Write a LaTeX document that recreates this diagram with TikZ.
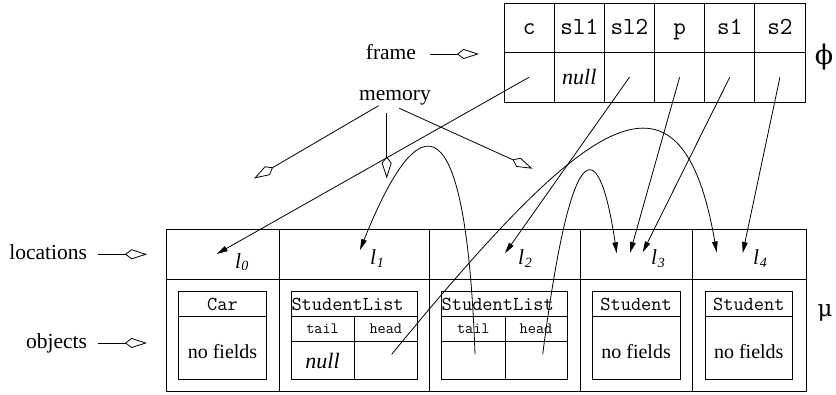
\documentclass[tikz,border=0pt]{standalone}
\usepackage{fontspec}
\setmainfont{Liberation Serif}
\newfontfamily\symfont{DejaVu Serif}
\usetikzlibrary{arrows.meta}

\begin{document}
\begin{tikzpicture}[x=1pt,y=-1pt,
  every node/.style={inner sep=0pt, outer sep=0pt},
  line width=0.8pt,
  lbl/.style={font=\fontsize{21.5}{24}\selectfont},
  fcell/.style={draw, minimum width=50.17pt, minimum height=49.5pt},
  fvar/.style={font=\fontsize{24.5}{26}\ttfamily, text height=14pt, text depth=0pt},
  hdr/.style={font=\fontsize{19.8}{22}\ttfamily},
  fld/.style={font=\fontsize{15.8}{18}\ttfamily},
  nof/.style={font=\fontsize{20}{22}\selectfont},
  nul/.style={font=\fontsize{22}{24}\itshape},
  loc/.style={font=\fontsize{21.5}{24}\itshape},
  ptr/.style={-{Triangle[length=11pt,width=5.5pt]}},
  diam/.style={-{Kite[open,length=22pt,width=10pt,inset=6.5pt]}},
]
\useasboundingbox (0,0) rectangle (836,395);
\fill[white] (0,0) rectangle (836,395);

% ---- frame: variable names and their values ----
\foreach \i/\v in {1/c,2/sl1,3/sl2,4/p,5/s1,6/s2} {
  \node[fcell, fvar] (fh\i) at ({504+50.17*(\i-0.5)},27.75) {\v};
  \node[fcell] (fv\i) at ({504+50.17*(\i-0.5)},77.25) {};
}
\node[nul, anchor=base] (fnull) at (fv2.center |- 0,85) {null};
\node[font=\fontsize{27}{28}\symfont] (phi) at (824,57.5) {ϕ};

% ---- memory: locations and objects ----
\foreach \i/\a/\b in {0/166/279.3, 1/279.3/429.3, 2/429.3/580, 3/580/692.7, 4/692.7/806} {
  \node[draw, minimum width={\b-\a}, minimum height=50.3pt] (loc\i) at ({(\a+\b)/2},254.15) {};
  \node[draw, minimum width={\b-\a}, minimum height=112.4pt] (obj\i) at ({(\a+\b)/2},335.5) {};
}
\node[font=\fontsize{23}{24}\symfont, anchor=base] (mu) at (825,317) {μ};

% location names
\node[loc, anchor=base west] (n0) at (235,269) {l\kern0.5pt\raisebox{-2pt}{\fontsize{14}{14}\selectfont 0}};
\node[loc, anchor=base west] (n1) at (370,265) {l\kern1pt\raisebox{-3pt}{\fontsize{14}{14}\selectfont 1}};
\node[loc, anchor=base west] (n2) at (518,265) {l\kern1pt\raisebox{-3pt}{\fontsize{14}{14}\selectfont 2}};
\node[loc, anchor=base west] (n3) at (651,265) {l\kern1pt\raisebox{-3pt}{\fontsize{14}{14}\selectfont 3}};
\node[loc, anchor=base west] (n4) at (753,265) {l\kern1pt\raisebox{-3pt}{\fontsize{14}{14}\selectfont 4}};

% object Car
\draw (178.3,291) rectangle (266.7,379.3);
\draw (178.3,316.7) -- (266.7,316.7);
\node[hdr, anchor=base] (car) at (222.5,311) {Car};
\node[nof, anchor=base] (nf0) at (222.5,359) {no fields};

% object StudentList (first)
\draw (291,291) rectangle (417.3,379.3);
\draw (291,316.7) -- (417.3,316.7);
\draw (291,341.3) -- (417.3,341.3);
\draw (354.3,316.7) -- (354.3,379.3);
\node[hdr, anchor=base west] (slA) at (291.5,311) {StudentList};
\node[fld, anchor=base] (tA) at (322.6,333.5) {tail};
\node[fld, anchor=base] (hA) at (385.8,333.5) {head};
\node[nul, anchor=base] (nA) at (322.6,369) {null};

% object StudentList (second)
\draw (441.7,291) rectangle (567.3,379.3);
\draw[line width=1.4pt] (441.7,316.7) -- (567.3,316.7);
\draw[line width=1.4pt] (441.7,341.3) -- (567.3,341.3);
\draw (505,316.7) -- (505,379.3);
\node[hdr, anchor=base west] (slB) at (441.7,311) {StudentList};
\node[fld, anchor=base] (tB) at (473.3,333.5) {tail};
\node[fld, anchor=base] (hB) at (536,333.5) {head};

% objects Student
\draw (592.3,291) rectangle (680,379.3);
\draw (592.3,316.7) -- (680,316.7);
\node[hdr, anchor=base] (stA) at (636.1,311) {Student};
\node[nof, anchor=base] (nf3) at (636.1,359) {no fields};
\draw (705,291) rectangle (792.7,379.3);
\draw (705,316.7) -- (792.7,316.7);
\node[hdr, anchor=base] (stB) at (748.8,311) {Student};
\node[nof, anchor=base] (nf4) at (748.8,359) {no fields};

% ---- side labels ----
\node[lbl, anchor=base east] (frame) at (416,60) {frame};
\node[lbl, anchor=base] (memory) at (395,101) {memory};
\node[lbl, anchor=base east] (locations) at (87,260) {locations};
\node[lbl, anchor=base east] (objects) at (87,349) {objects};

\coordinate (frA) at (430,54);   \coordinate (frB) at (479,54);
\coordinate (loA) at (98,254.3); \coordinate (loB) at (147,254.3);
\coordinate (obA) at (98,343);   \coordinate (obB) at (147,343);
\coordinate (meL) at (378.6,105.7); \coordinate (meLt) at (254,178.5);
\coordinate (meM) at (386.7,113.3); \coordinate (meMt) at (386.7,178.5);
\coordinate (meR) at (399.3,108.3); \coordinate (meRt) at (532.5,168.7);
\draw[diam] (frA) -- (frB);
\draw[diam] (loA) -- (loB);
\draw[diam] (obA) -- (obB);
\draw[diam] (meL) -- (meLt);
\draw[diam] (meM) -- (meMt);
\draw[diam] (meR) -- (meRt);

% ---- pointers ----
\coordinate (t0)  at (216.7,254);
\coordinate (t1)  at (360,250);
\coordinate (t2)  at (505,253.3);
\coordinate (t3a) at (616.7,253.3);
\coordinate (t3b) at (630,253);
\coordinate (t3c) at (642.7,252.3);
\coordinate (t4a) at (716.7,252.5);
\coordinate (t4b) at (742.7,253);
\coordinate (hAp) at (391.7,354.3);
\coordinate (tBp) at (475,354.3);
\coordinate (hBp) at (542.7,354.3);

\draw[ptr] (fv1.center) -- (t0);
\draw[ptr] (fv3.center) -- (t2);
\draw[ptr] (fv4.center) -- (t3b);
\draw[ptr] (fv5.center) -- (t3c);
\draw[ptr] (fv6.center) -- (t4b);
\draw[ptr] (hAp) .. controls (580,125) and (680,40) .. (t4a);
\draw[ptr] (tBp) .. controls (466,100) and (420,100) .. (t1);
\draw[ptr] (hBp) .. controls (573,120) and (600,140) .. (t3a);
\end{tikzpicture}
\end{document}
